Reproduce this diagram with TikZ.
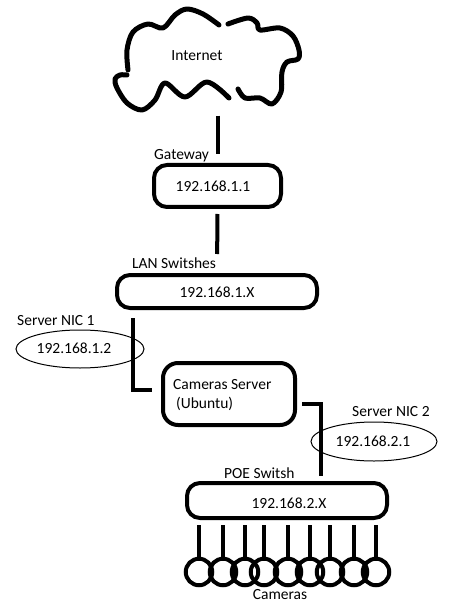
\documentclass[tikz,border=0pt]{standalone}
\usepackage{fontspec}
\setmainfont{Carlito}
\usetikzlibrary{shapes.geometric}
\tikzset{
  x=1pt,y=-1pt,
  boxnode/.style={draw,line width=4pt,rounded corners=13pt,inner sep=0pt},
  nic/.style={draw,ellipse,line width=1pt,inner sep=0pt},
  cam/.style={draw,circle,line width=4pt,minimum size=26.5pt,inner sep=0pt},
  lbl/.style={inner sep=0pt,font=\fontsize{15.5}{17}\selectfont},
  link/.style={line width=4pt},
  cloudline/.style={line width=5pt,line cap=round,line join=round,smooth,tension=0.55},
}
\begin{document}
\begin{tikzpicture}
\useasboundingbox (0,0) rectangle (454,612);
\node[minimum width=184pt,minimum height=101pt,inner sep=0pt] (cloud) at (207,60) {};
\draw[cloudline] plot coordinates {(128,70) (127,50) (133,32) (148,24) (163,28) (175,15) (187,9) (203,14) (219,25)};
\draw[cloudline] plot coordinates {(228,24) (248,18) (257,23) (260,30) (280,28) (293,36) (299,50) (298,59) (287,62) (282,72) (281,92) (272,104) (260,98) (245,98) (238,89)};
\draw[cloudline] plot coordinates {(229,98) (207,82) (185,97) (165,83) (155,100) (142,110) (127,103) (117,88) (115,79) (120,75) (127,75)};
\node[lbl] (inet) at (197,56) {Internet};
\node[boxnode,minimum width=127pt,minimum height=42pt] (gw) at (217.5,186) {};
\node[lbl] (gwip) at (213,186) {192.168.1.1};
\node[lbl,anchor=west] (gwl) at (154,156) {Gateway};
\node[boxnode,minimum width=200pt,minimum height=33pt] (lan) at (217,291.5) {};
\node[lbl] (lanip) at (217,292) {192.168.1.X};
\node[lbl,anchor=west] (lanl) at (132,263) {LAN Switshes};
\node[boxnode,minimum width=132pt,minimum height=62pt,rounded corners=15pt] (srv) at (229,394) {};
\node[lbl,anchor=west] (srv1) at (173,385) {Cameras Server};
\node[lbl,anchor=west] (srv2) at (176,404) {(Ubuntu)};
\node[boxnode,minimum width=200pt,minimum height=35pt] (poe) at (287,500.5) {};
\node[lbl] (poeip) at (289,503) {192.168.2.X};
\node[lbl,anchor=west] (poel) at (224,473) {POE Switsh};
\coordinate (c1) at (133,390);
\coordinate (c2) at (321,404);
\draw[link,shorten >=9pt,shorten <=2pt] (gw.north |- cloud.south) ++(0,3) -- (gw.north);
\draw[link,shorten >=19pt,shorten <=5pt] (gw.south) -- (lan.north);
\draw[link,shorten <=8pt] (c1 |- lan.south) -- (c1) -- (srv.west |- c1) [shorten >=9pt];
\draw[link,shorten >=5pt,shorten <=5pt] (srv.east |- c2) -- (c2) -- (c2 |- poe.north);
\node[nic,minimum width=128pt,minimum height=38pt] (n1) at (80,349) {};
\node[lbl] (n1ip) at (74,348) {192.168.1.2};
\node[lbl,anchor=west] (n1l) at (17,321) {Server NIC 1};
\node[nic,minimum width=126pt,minimum height=39pt] (n2) at (374,441.5) {};
\node[lbl] (n2ip) at (373,441) {192.168.2.1};
\node[lbl,anchor=west] (n2l) at (352,412) {Server NIC 2};
\foreach \i/\x in {1/199,2/223,3/245,4/264,5/288,6/310,7/330,8/354,9/376}{
  \node[cam] (cam\i) at (\x,572) {};
  \coordinate (top\i) at (\x,525);
  \draw[link] (top\i) -- (cam\i.north);
}
\node[lbl] (camsl) at (280,595) {Cameras};
\end{tikzpicture}
\end{document}
